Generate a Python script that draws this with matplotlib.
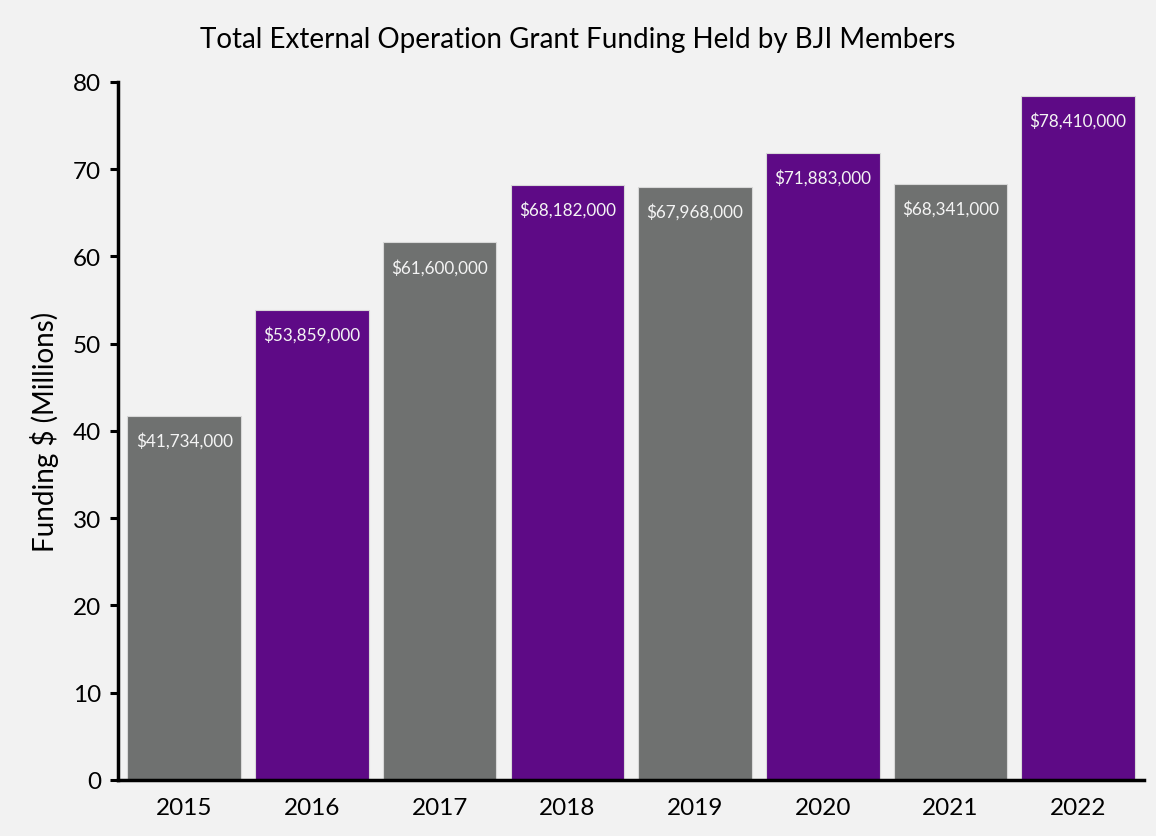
import matplotlib
matplotlib.use("Agg")
import matplotlib.pyplot as plt

years = ["2015", "2016", "2017", "2018", "2019", "2020", "2021", "2022"]
funding = [41734000, 53859000, 61600000, 68182000, 67968000, 71883000, 68341000, 78410000]
bar_colors = ["#6f7170", "#5e0a86", "#6f7170", "#5e0a86", "#6f7170", "#5e0a86", "#6f7170", "#5e0a86"]
title = "Total External Operation Grant Funding Held by BJI Members"
ylabel = "Funding $ (Millions)"
yticks = [0, 10, 20, 30, 40, 50, 60, 70, 80]

plt.rcParams['font.family'] = ['Lato', 'DejaVu Sans']

fig = plt.figure(figsize=(11.56, 8.37), dpi=100, facecolor="#f2f2f2")
ax = fig.add_axes([0.102, 0.067, 0.888, 0.834])
ax.set_facecolor("#f2f2f2")

vals = [v / 1e6 for v in funding]
x = list(range(len(years)))
bars = ax.bar(x, vals, width=0.89, color=bar_colors, edgecolor="#d8d8d8", linewidth=0.8, zorder=2)

for xi, v, raw in zip(x, vals, funding):
    ax.annotate(f"${raw:,.0f}", xy=(xi, v), xytext=(0, -17.5), textcoords="offset points",
                ha="center", va="center", color="#f4f4f4", fontsize=12.3)

ax.set_xlim(-0.52, 7.52)
ax.set_ylim(0, 80)
ax.set_yticks(yticks)
ax.set_xticks(x)
ax.set_xticklabels(years)
ax.tick_params(axis="y", labelsize=17.5, length=6, width=2.2, pad=6)
ax.tick_params(axis="x", labelsize=17.5, length=0, pad=12)
for s in ["top", "right"]:
    ax.spines[s].set_visible(False)
for s in ["left", "bottom"]:
    ax.spines[s].set_linewidth(2.5)
    ax.spines[s].set_color("black")
ax.set_ylabel(ylabel, fontsize=20, labelpad=10)
fig.text(0.5, 0.952, title, ha="center", va="center", fontsize=20)

fig.savefig("out.png", dpi=100, facecolor=fig.get_facecolor())
